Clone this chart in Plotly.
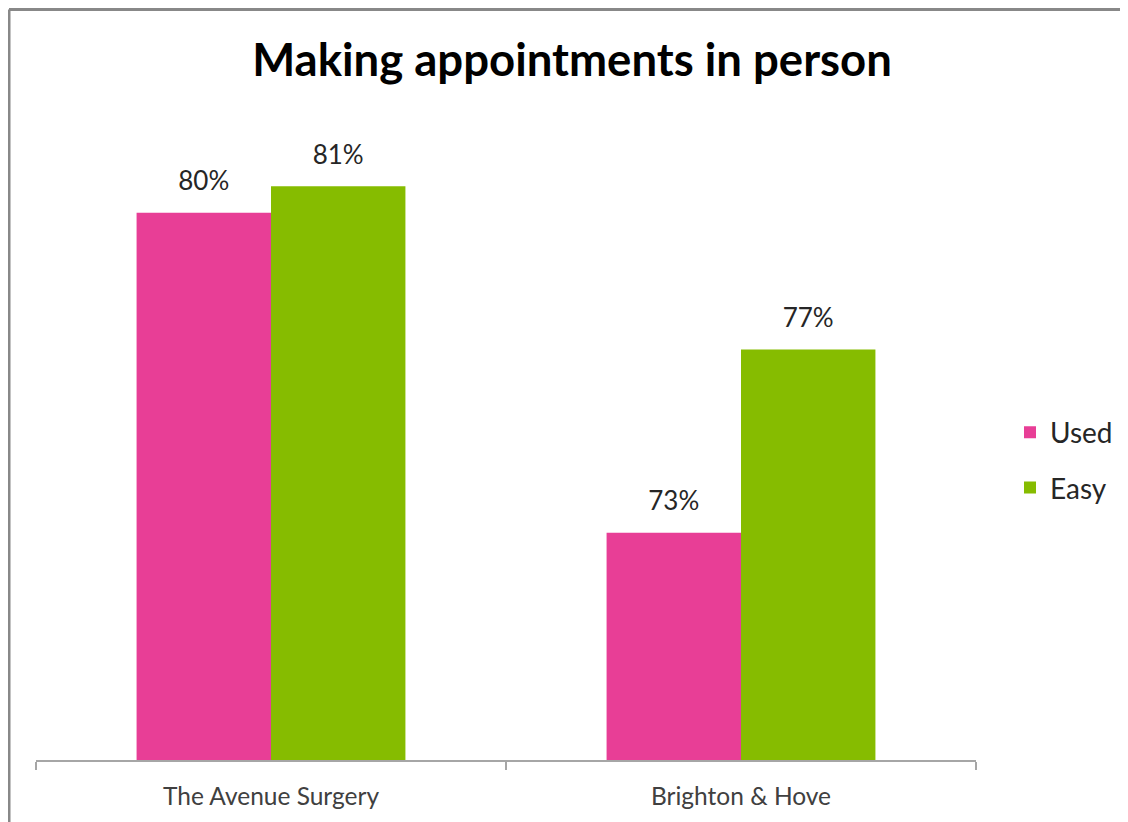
import plotly.graph_objects as go

categories = ["The Avenue Surgery", "Brighton & Hove"]
used = [80.4, 73.15]
easy = [81.0, 77.3]
series_names = ["Used", "Easy"]
colors = ["#E83E96", "#86BC00"]
title_text = "Making appointments in person"

# page body has an 8px default margin; target pixels below are page pixels minus 8
OFF = 8
W, H = 1128, 822
L, R, T, B = 36 - OFF, 1128 - (976 - OFF), 98 - OFF, 822 - (760 - OFF)
pw, ph = W - L - R, H - T - B
GAP = 0.428

def px_to_paper_x(px):
    return (px - OFF - L) / pw

def px_to_paper_y(py):
    return (H - B - (py - OFF)) / ph

fig = go.Figure()
for name, vals, col in zip(series_names, [used, easy], colors):
    fig.add_trace(go.Bar(
        x=categories, y=vals, name=name, legendgroup=name, offsetgroup=name,
        marker=dict(color=col, line=dict(width=0)),
        hoverinfo="skip",
    ))
for name, vals in zip(series_names, [used, easy]):
    fig.add_trace(go.Scatter(
        x=categories, y=vals, mode="markers+text", offsetgroup=name,
        marker=dict(size=24, opacity=0), showlegend=False,
        texttemplate="%{y:.0f}%", textposition="top center",
        textfont=dict(family="Lato", size=26, color="#262626"),
        cliponaxis=False, hoverinfo="skip",
    ))

fig.update_layout(
    width=W, height=H,
    margin=dict(l=L, r=R, t=T, b=B),
    paper_bgcolor="white", plot_bgcolor="white",
    barmode="group", bargap=GAP, bargroupgap=0,
    scattermode="group", scattergap=GAP,
    font=dict(family="Lato", color="#404040"),
    title=dict(text="<b>" + title_text + "</b>", x=(572 - OFF) / W, xref="container",
               xanchor="center", y=1 - (60 - OFF) / H, yref="container", yanchor="middle",
               font=dict(family="Lato", size=45.5, color="#000000")),
    legend=dict(x=px_to_paper_x(1010), xanchor="left", y=px_to_paper_y(460), yanchor="middle",
                font=dict(family="Lato", size=28, color="#262626"),
                tracegroupgap=16, bgcolor="rgba(0,0,0,0)"),
    showlegend=True,
)
fig.update_xaxes(showline=True, linecolor="#A6A6A6", linewidth=1.5,
                 ticks="outside", ticklen=8, tickcolor="#A6A6A6", tickwidth=1.5,
                 tickson="boundaries", showgrid=False, ticklabelstandoff=14,
                 tickfont=dict(family="Lato", size=24.5, color="#404040"))
fig.update_yaxes(range=[68, 83], visible=False, showgrid=False, zeroline=False)

# outer chart border (top and left edges visible)
bx = px_to_paper_x(9)
by = px_to_paper_y(9.5)
fig.add_shape(type="line", xref="paper", yref="paper", x0=bx, y0=by, x1=px_to_paper_x(W + 20), y1=by,
              line=dict(color="#888888", width=3))
fig.add_shape(type="line", xref="paper", yref="paper", x0=bx, y0=by, x1=bx, y1=px_to_paper_y(H + 20),
              line=dict(color="#888888", width=3))

fig.write_html("out.html")
